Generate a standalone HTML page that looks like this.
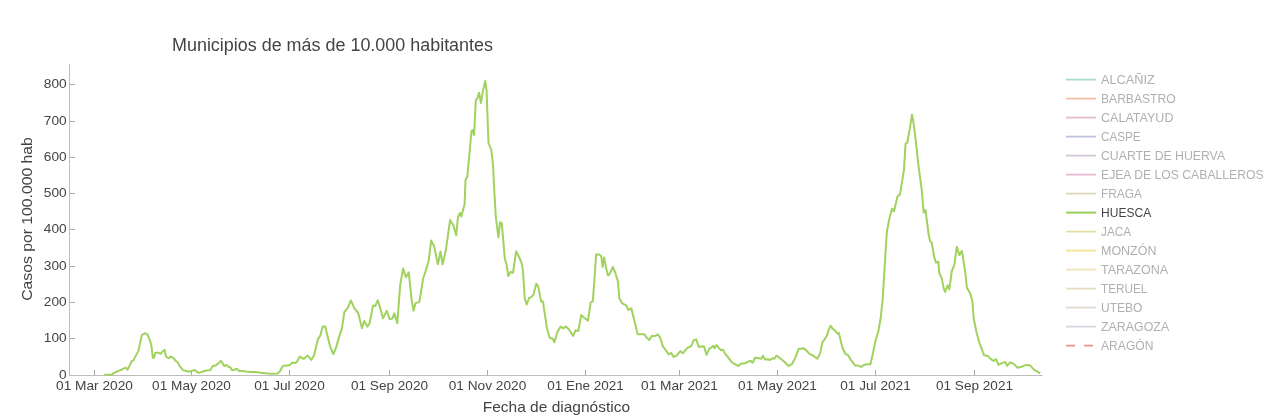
<!DOCTYPE html><html><head><meta charset="utf-8"><style>html,body{margin:0;padding:0;background:#fff;overflow:hidden}</style></head><body><svg width="1274" height="418" viewBox="0 0 1274 418" style="display:block;will-change:transform">
<rect width="1274" height="418" fill="#fff"/>
<g fill="none" stroke="#bdbdbd" stroke-width="1">
<path d="M69.5,64V376"/>
<path d="M69,375.5H1042.5"/>
</g>
<g stroke="#a8a8a8" stroke-width="1" fill="none">
<path d="M94.5,375V370"/>
<path d="M191.5,375V370"/>
<path d="M289.5,375V370"/>
<path d="M389.5,375V370"/>
<path d="M487.5,375V370"/>
<path d="M585.5,375V370"/>
<path d="M679.5,375V370"/>
<path d="M777.5,375V370"/>
<path d="M875.5,375V370"/>
<path d="M974.5,375V370"/>
<path d="M70,338.5H75"/>
<path d="M70,302.5H75"/>
<path d="M70,266.5H75"/>
<path d="M70,229.5H75"/>
<path d="M70,193.5H75"/>
<path d="M70,157.5H75"/>
<path d="M70,121.5H75"/>
<path d="M70,84.5H75"/>
</g>
<g font-family="Liberation Sans, sans-serif" font-size="12.4" fill="#444">
<text x="94.50" y="390" text-anchor="middle" textLength="76.89" lengthAdjust="spacingAndGlyphs">01 Mar 2020</text>
<text x="191.50" y="390" text-anchor="middle" textLength="78.87" lengthAdjust="spacingAndGlyphs">01 May 2020</text>
<text x="289.50" y="390" text-anchor="middle" textLength="70.55" lengthAdjust="spacingAndGlyphs">01 Jul 2020</text>
<text x="389.50" y="390" text-anchor="middle" textLength="77.04" lengthAdjust="spacingAndGlyphs">01 Sep 2020</text>
<text x="487.50" y="390" text-anchor="middle" textLength="77.56" lengthAdjust="spacingAndGlyphs">01 Nov 2020</text>
<text x="585.50" y="390" text-anchor="middle" textLength="76.53" lengthAdjust="spacingAndGlyphs">01 Ene 2021</text>
<text x="679.50" y="390" text-anchor="middle" textLength="76.89" lengthAdjust="spacingAndGlyphs">01 Mar 2021</text>
<text x="777.50" y="390" text-anchor="middle" textLength="78.87" lengthAdjust="spacingAndGlyphs">01 May 2021</text>
<text x="875.50" y="390" text-anchor="middle" textLength="70.55" lengthAdjust="spacingAndGlyphs">01 Jul 2021</text>
<text x="974.50" y="390" text-anchor="middle" textLength="77.04" lengthAdjust="spacingAndGlyphs">01 Sep 2021</text>
<text x="66.7" y="379.30" text-anchor="end" textLength="7.63" lengthAdjust="spacingAndGlyphs">0</text>
<text x="66.7" y="342.30" text-anchor="end" textLength="22.89" lengthAdjust="spacingAndGlyphs">100</text>
<text x="66.7" y="306.30" text-anchor="end" textLength="22.89" lengthAdjust="spacingAndGlyphs">200</text>
<text x="66.7" y="270.30" text-anchor="end" textLength="22.89" lengthAdjust="spacingAndGlyphs">300</text>
<text x="66.7" y="233.30" text-anchor="end" textLength="22.89" lengthAdjust="spacingAndGlyphs">400</text>
<text x="66.7" y="197.30" text-anchor="end" textLength="22.89" lengthAdjust="spacingAndGlyphs">500</text>
<text x="66.7" y="161.30" text-anchor="end" textLength="22.89" lengthAdjust="spacingAndGlyphs">600</text>
<text x="66.7" y="125.30" text-anchor="end" textLength="22.89" lengthAdjust="spacingAndGlyphs">700</text>
<text x="66.7" y="88.30" text-anchor="end" textLength="22.89" lengthAdjust="spacingAndGlyphs">800</text>
</g>
<text x="172" y="50.9" font-family="Liberation Sans, sans-serif" font-size="17.5" fill="#444" textLength="321" lengthAdjust="spacingAndGlyphs">Municipios de más de 10.000 habitantes</text>
<text x="556.4" y="411.9" font-family="Liberation Sans, sans-serif" font-size="14.2" fill="#444" text-anchor="middle" textLength="147.3" lengthAdjust="spacingAndGlyphs">Fecha de diagnóstico</text>
<text transform="translate(32.3,219) rotate(-90)" x="0" y="0" font-family="Liberation Sans, sans-serif" font-size="14.2" fill="#444" text-anchor="middle" textLength="163.7" lengthAdjust="spacingAndGlyphs">Casos por 100.000 hab</text>
<path d="M1066,79.6H1096" stroke="#acdacb" stroke-width="1.8" fill="none"/>
<text x="1101" y="83.7" font-family="Liberation Sans, sans-serif" font-size="12.2" fill="#b0b0b0" textLength="53.72" lengthAdjust="spacingAndGlyphs">ALCAÑIZ</text>
<path d="M1066,98.6H1096" stroke="#f2bda5" stroke-width="1.8" fill="none"/>
<text x="1101" y="102.7" font-family="Liberation Sans, sans-serif" font-size="12.2" fill="#b0b0b0" textLength="74.60" lengthAdjust="spacingAndGlyphs">BARBASTRO</text>
<path d="M1066,117.6H1096" stroke="#dfbec4" stroke-width="1.8" fill="none"/>
<text x="1101" y="121.7" font-family="Liberation Sans, sans-serif" font-size="12.2" fill="#b0b0b0" textLength="72.49" lengthAdjust="spacingAndGlyphs">CALATAYUD</text>
<path d="M1066,136.6H1096" stroke="#bfc3e0" stroke-width="1.8" fill="none"/>
<text x="1101" y="140.7" font-family="Liberation Sans, sans-serif" font-size="12.2" fill="#b0b0b0" textLength="39.61" lengthAdjust="spacingAndGlyphs">CASPE</text>
<path d="M1066,155.6H1096" stroke="#d2c6d9" stroke-width="1.8" fill="none"/>
<text x="1101" y="159.7" font-family="Liberation Sans, sans-serif" font-size="12.2" fill="#b0b0b0" textLength="124.09" lengthAdjust="spacingAndGlyphs">CUARTE DE HUERVA</text>
<path d="M1066,174.6H1096" stroke="#e9b7d3" stroke-width="1.8" fill="none"/>
<text x="1101" y="178.7" font-family="Liberation Sans, sans-serif" font-size="12.2" fill="#b0b0b0" textLength="162.63" lengthAdjust="spacingAndGlyphs">EJEA DE LOS CABALLEROS</text>
<path d="M1066,193.6H1096" stroke="#ddd5bb" stroke-width="1.8" fill="none"/>
<text x="1101" y="197.7" font-family="Liberation Sans, sans-serif" font-size="12.2" fill="#b0b0b0" textLength="40.96" lengthAdjust="spacingAndGlyphs">FRAGA</text>
<path d="M1066,212.6H1096" stroke="#9ccc5c" stroke-width="2" fill="none"/>
<text x="1101" y="216.7" font-family="Liberation Sans, sans-serif" font-size="12.2" fill="#444" textLength="50.17" lengthAdjust="spacingAndGlyphs">HUESCA</text>
<path d="M1066,231.6H1096" stroke="#e4e0a2" stroke-width="1.8" fill="none"/>
<text x="1101" y="235.7" font-family="Liberation Sans, sans-serif" font-size="12.2" fill="#b0b0b0" textLength="30.25" lengthAdjust="spacingAndGlyphs">JACA</text>
<path d="M1066,250.6H1096" stroke="#f2e594" stroke-width="1.8" fill="none"/>
<text x="1101" y="254.7" font-family="Liberation Sans, sans-serif" font-size="12.2" fill="#b0b0b0" textLength="55.41" lengthAdjust="spacingAndGlyphs">MONZÓN</text>
<path d="M1066,269.6H1096" stroke="#f2e3b2" stroke-width="1.8" fill="none"/>
<text x="1101" y="273.7" font-family="Liberation Sans, sans-serif" font-size="12.2" fill="#b0b0b0" textLength="67.00" lengthAdjust="spacingAndGlyphs">TARAZONA</text>
<path d="M1066,288.6H1096" stroke="#e6dcc2" stroke-width="1.8" fill="none"/>
<text x="1101" y="292.7" font-family="Liberation Sans, sans-serif" font-size="12.2" fill="#b0b0b0" textLength="46.37" lengthAdjust="spacingAndGlyphs">TERUEL</text>
<path d="M1066,307.6H1096" stroke="#e0d9cf" stroke-width="1.8" fill="none"/>
<text x="1101" y="311.7" font-family="Liberation Sans, sans-serif" font-size="12.2" fill="#b0b0b0" textLength="41.44" lengthAdjust="spacingAndGlyphs">UTEBO</text>
<path d="M1066,326.6H1096" stroke="#d6d4dc" stroke-width="1.8" fill="none"/>
<text x="1101" y="330.7" font-family="Liberation Sans, sans-serif" font-size="12.2" fill="#b0b0b0" textLength="68.15" lengthAdjust="spacingAndGlyphs">ZARAGOZA</text>
<path d="M1066,345.6H1096" stroke="#e69494" stroke-width="1.8" stroke-dasharray="9,9" fill="none"/>
<text x="1101" y="349.7" font-family="Liberation Sans, sans-serif" font-size="12.2" fill="#b0b0b0" textLength="52.48" lengthAdjust="spacingAndGlyphs">ARAGÓN</text>
<path d="M104.2,374.8 L112.0,374.4 L114.4,372.6 L118.0,371.2 L125.7,367.6 L127.5,369.7 L131.7,361.3 L133.5,360.1 L138.3,351.1 L141.9,335.0 L144.9,333.2 L147.4,334.4 L150.4,341.6 L151.6,346.9 L152.8,357.7 L154.0,357.7 L155.2,352.9 L158.2,352.6 L160.6,353.8 L162.9,351.1 L164.7,349.9 L165.9,356.5 L168.9,358.3 L170.7,356.5 L173.1,357.7 L175.5,360.7 L177.9,362.5 L179.7,366.1 L183.3,370.3 L186.3,370.9 L188.7,371.7 L191.7,370.9 L194.6,370.0 L197.0,372.0 L198.8,372.9 L202.4,371.8 L206.0,370.5 L210.2,370.3 L212.6,366.1 L215.6,365.5 L218.6,363.1 L221.0,360.9 L221.8,361.9 L224.2,366.1 L226.6,364.9 L228.4,366.7 L230.2,367.3 L232.0,370.3 L234.4,369.7 L236.7,368.8 L239.1,370.9 L242.7,370.9 L246.3,371.5 L251.1,372.1 L255.9,372.1 L260.7,372.7 L265.5,373.2 L270.2,373.8 L277.4,373.6 L279.8,371.5 L282.8,366.1 L285.2,365.5 L288.2,365.5 L290.0,364.9 L292.4,362.5 L294.8,363.1 L296.9,361.8 L299.8,356.6 L303.6,358.9 L307.4,355.5 L311.3,359.9 L314.1,355.1 L318.0,338.8 L320.3,335.6 L322.8,326.4 L325.2,326.4 L327.5,335.9 L330.4,347.4 L333.3,354.1 L336.1,347.4 L339.4,335.9 L341.9,328.3 L344.4,312.0 L347.6,308.2 L350.9,300.5 L354.3,308.2 L358.2,313.0 L362.0,328.3 L364.2,320.9 L367.3,326.6 L369.6,323.2 L373.0,305.5 L375.3,305.9 L377.8,300.2 L380.1,307.8 L383.0,318.4 L386.8,310.7 L389.7,319.3 L392.5,318.4 L394.4,313.2 L397.3,323.2 L400.2,284.9 L403.1,268.6 L405.9,277.2 L408.8,272.4 L411.7,300.2 L413.6,310.7 L415.5,303.1 L419.3,302.1 L423.2,278.3 L425.4,271.8 L428.6,261.1 L431.2,240.6 L434.0,246.0 L437.9,264.3 L440.5,251.4 L442.6,264.3 L445.8,250.3 L450.1,220.1 L453.4,225.5 L456.2,235.2 L458.0,217.0 L460.0,213.0 L461.3,216.5 L464.6,204.0 L465.5,180.0 L467.3,176.8 L471.5,131.0 L473.0,130.0 L474.0,135.0 L474.4,128.8 L475.8,100.0 L477.3,98.6 L479.1,92.8 L480.9,102.9 L483.0,90.7 L485.2,80.9 L486.6,90.7 L488.0,130.0 L488.5,143.0 L491.3,150.0 L493.0,165.0 L494.5,195.0 L495.8,216.8 L498.4,237.3 L500.1,222.2 L501.8,223.3 L504.8,258.8 L506.5,264.2 L508.3,276.1 L510.8,271.8 L513.0,272.8 L516.2,251.3 L519.0,256.7 L521.6,263.1 L522.9,270.0 L524.8,298.7 L526.7,304.4 L529.2,297.8 L531.5,296.8 L533.4,294.9 L536.3,283.8 L538.2,286.3 L541.1,301.6 L543.0,301.6 L546.8,327.4 L549.7,337.9 L552.5,338.5 L554.4,342.3 L557.3,332.2 L560.6,326.5 L563.1,328.4 L565.9,326.5 L568.8,329.3 L573.2,336.0 L575.5,330.3 L578.4,330.9 L581.2,315.0 L584.1,317.8 L588.0,320.6 L590.7,302.4 L592.7,301.5 L594.2,283.3 L596.1,254.6 L599.4,254.6 L601.3,256.5 L602.6,267.0 L604.1,257.4 L606.1,268.0 L608.0,275.6 L609.9,273.7 L612.8,267.0 L615.6,273.7 L617.9,281.4 L619.4,298.6 L622.3,303.4 L626.1,305.3 L628.4,310.0 L631.4,308.4 L634.2,320.1 L637.6,334.3 L640.9,334.3 L644.3,334.3 L646.8,337.7 L649.3,339.9 L651.8,336.0 L655.2,336.0 L657.7,334.3 L660.2,337.7 L662.7,346.1 L666.0,350.3 L668.6,354.4 L671.1,352.8 L673.6,357.0 L676.9,355.3 L680.3,351.1 L682.8,353.3 L686.1,349.4 L688.3,347.2 L691.2,346.1 L693.7,340.2 L696.2,339.4 L698.7,346.9 L701.2,346.6 L703.9,346.3 L706.6,354.9 L709.2,348.9 L711.2,347.6 L713.2,345.7 L714.5,348.3 L716.4,345.0 L719.1,348.3 L721.1,350.3 L723.0,349.6 L725.0,353.6 L728.3,357.5 L731.6,362.1 L734.9,364.1 L738.2,366.1 L741.4,363.4 L744.7,363.4 L748.0,361.8 L750.7,360.8 L752.6,362.8 L755.3,357.5 L758.6,358.2 L761.2,358.8 L762.9,355.8 L765.1,359.5 L767.8,359.2 L769.7,360.1 L772.4,358.2 L774.3,358.8 L776.3,355.8 L777.2,355.9 L780.7,358.8 L784.3,361.7 L788.6,366.0 L792.2,363.8 L795.1,358.1 L798.7,348.8 L801.6,348.8 L803.7,348.3 L806.6,350.6 L809.5,353.8 L812.3,355.2 L814.5,356.7 L817.4,358.8 L820.2,353.1 L822.4,342.3 L824.6,339.4 L826.7,335.8 L828.9,329.4 L830.7,325.8 L832.5,328.6 L835.3,330.8 L837.5,333.7 L838.9,333.0 L841.1,342.3 L842.5,348.0 L845.4,353.8 L848.0,355.1 L851.1,360.1 L855.2,365.6 L858.2,365.6 L861.3,366.9 L863.3,365.2 L866.4,364.2 L870.4,364.2 L872.5,355.1 L875.5,340.8 L878.5,330.7 L880.6,318.5 L882.6,300.2 L886.8,232.4 L889.5,217.9 L892.1,208.7 L894.0,211.3 L897.4,196.8 L900.0,194.2 L904.0,169.6 L905.5,143.8 L907.2,142.7 L909.8,128.7 L912.0,114.7 L914.0,126.0 L916.0,143.0 L918.4,165.0 L922.0,192.0 L922.4,198.2 L923.7,212.6 L925.5,210.0 L928.7,235.0 L930.0,240.9 L931.7,242.5 L934.2,256.8 L935.9,262.6 L938.4,261.8 L939.2,272.7 L941.8,278.6 L943.8,288.6 L945.1,292.0 L947.6,285.3 L949.3,289.4 L951.8,271.0 L954.3,265.2 L956.8,246.7 L959.3,255.1 L961.9,250.9 L965.2,271.9 L966.9,287.8 L970.2,293.6 L972.3,300.7 L973.6,318.0 L976.5,332.3 L979.4,342.8 L981.3,347.6 L984.1,355.3 L988.0,355.9 L990.8,359.1 L993.7,361.0 L996.0,359.1 L998.5,364.9 L1002.3,362.9 L1005.2,362.0 L1007.1,365.8 L1010.0,362.4 L1013.8,363.9 L1017.6,367.7 L1021.5,366.8 L1026.2,364.9 L1030.1,365.4 L1033.9,369.6 L1040.2,373.3" fill="none" stroke="#a0d25e" stroke-width="2" stroke-linejoin="round"/>
</svg></body></html>
